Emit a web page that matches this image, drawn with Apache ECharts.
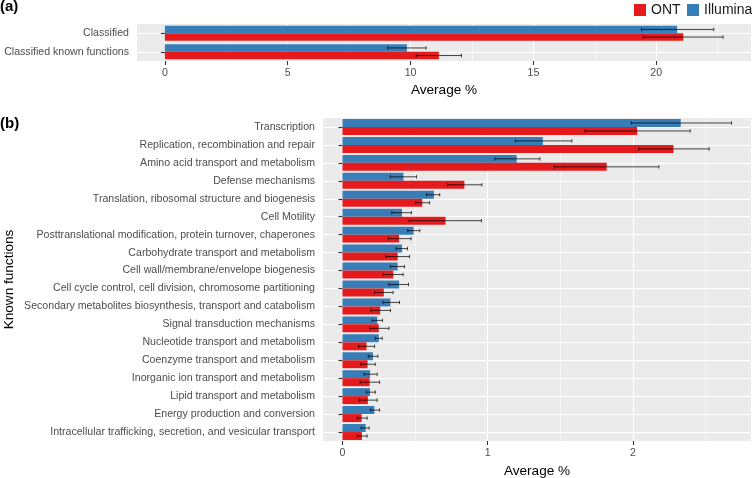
<!DOCTYPE html>
<html>
<head>
<meta charset="utf-8">
<script src="https://cdn.jsdelivr.net/npm/echarts@6/dist/echarts.min.js"></script>
<style>html,body{margin:0;padding:0;background:#fff}#c{width:752px;height:478px}</style>
</head>
<body>
<div id="c"></div>
<script>
// ---------- Panel (a) data ----------
const catA = ['Classified', 'Classified known functions'];
const illuminaA = [20.85, 9.85];
const illuminaALow = [19.40, 9.07];
const illuminaAHigh = [22.34, 10.63];
const ontA = [21.10, 11.15];
const ontALow = [19.47, 10.23];
const ontAHigh = [22.72, 12.07];
const ticksA = [0, 5, 10, 15, 20];
const minorA = [2.5, 7.5, 12.5, 17.5, 22.5];

// ---------- Panel (b) data ----------
const catB = [
  'Transcription',
  'Replication, recombination and repair',
  'Amino acid transport and metabolism',
  'Defense mechanisms',
  'Translation, ribosomal structure and biogenesis',
  'Cell Motility',
  'Posttranslational modification, protein turnover, chaperones',
  'Carbohydrate transport and metabolism',
  'Cell wall/membrane/envelope biogenesis',
  'Cell cycle control, cell division, chromosome partitioning',
  'Secondary metabolites biosynthesis, transport and catabolism',
  'Signal transduction mechanisms',
  'Nucleotide transport and metabolism',
  'Coenzyme transport and metabolism',
  'Inorganic ion transport and metabolism',
  'Lipid transport and metabolism',
  'Energy production and conversion',
  'Intracellular trafficking, secretion, and vesicular transport'
];
const illuminaB =     [2.33, 1.38, 1.20, 0.42, 0.63, 0.41, 0.49, 0.41, 0.38, 0.39, 0.33, 0.24, 0.25, 0.21, 0.19, 0.19, 0.22, 0.16];
const illuminaBLow =  [1.99, 1.19, 1.05, 0.33, 0.58, 0.34, 0.45, 0.37, 0.33, 0.32, 0.28, 0.205, 0.226, 0.178, 0.150, 0.164, 0.194, 0.129];
const illuminaBHigh = [2.68, 1.58, 1.36, 0.51, 0.67, 0.475, 0.533, 0.448, 0.427, 0.455, 0.393, 0.276, 0.274, 0.244, 0.239, 0.226, 0.256, 0.184];
const ontB =          [2.03, 2.28, 1.82, 0.84, 0.55, 0.71, 0.39, 0.38, 0.35, 0.285, 0.26, 0.25, 0.166, 0.173, 0.187, 0.175, 0.132, 0.134];
const ontBLow =       [1.67, 2.04, 1.46, 0.725, 0.505, 0.46, 0.317, 0.297, 0.281, 0.221, 0.196, 0.187, 0.111, 0.127, 0.122, 0.116, 0.102, 0.102];
const ontBHigh =      [2.395, 2.526, 2.18, 0.96, 0.60, 0.957, 0.473, 0.462, 0.418, 0.349, 0.331, 0.32, 0.221, 0.226, 0.256, 0.239, 0.17, 0.17];
const ticksB = [0, 1, 2];
const minorB = [0.5, 1.5, 2.5];

const RED = '#E41A1C', BLUE = '#377EB8';
const FONT = 'Liberation Sans, Arial, Helvetica, sans-serif';
const LABEL_COL = '#4D4D4D';
const BAR_A = 0.41, BAR_B = 0.445;

const maxA = Math.max(...illuminaAHigh, ...ontAHigh);
const maxB = Math.max(...illuminaBHigh, ...ontBHigh);

function errRender(sign, frac) {
  return function (params, api) {
    const cat = api.value(2);
    const lo = api.coord([api.value(0), cat]);
    const hi = api.coord([api.value(1), cat]);
    const band = api.size([0, 1])[1];
    const y = lo[1] + sign * band * frac / 2;
    const cap = band * 0.095;
    const st = { stroke: 'rgba(0,0,0,0.72)', lineWidth: 1 };
    return {
      type: 'group',
      children: [
        { type: 'line', shape: { x1: lo[0], y1: y, x2: hi[0], y2: y }, style: st },
        { type: 'line', shape: { x1: lo[0], y1: y - cap, x2: lo[0], y2: y + cap }, style: st },
        { type: 'line', shape: { x1: hi[0], y1: y - cap, x2: hi[0], y2: y + cap }, style: st }
      ]
    };
  };
}
function errData(low, high) { return low.map((l, i) => [l, high[i], i]); }

function mainX(gridIndex, ticks, min, max) {
  return {
    type: 'value', gridIndex, min, max,
    axisLine: { show: false },
    axisTick: { show: true, length: 4, customValues: ticks, lineStyle: { color: '#333', width: 1.1 } },
    axisLabel: { customValues: ticks, margin: 7, color: LABEL_COL, fontSize: 10.6, fontFamily: FONT },
    splitLine: { show: true, lineStyle: { color: '#fff', width: 1.1 } },
    name: 'Average %', nameLocation: 'middle', nameGap: 22,
    nameTextStyle: { color: '#000', fontSize: 13.6, fontFamily: FONT }
  };
}
function minorX(gridIndex, ticks, min, max) {
  return {
    type: 'value', gridIndex, min, max,
    axisLine: { show: false },
    axisTick: { show: false, customValues: ticks },
    axisLabel: { show: false, customValues: ticks },
    splitLine: { show: true, lineStyle: { color: '#fff', width: 0.55 } }
  };
}
function catY(gridIndex, cats, extra) {
  return Object.assign({
    type: 'category', gridIndex, data: cats, inverse: true,
    axisLine: { show: false },
    axisTick: { show: true, alignWithLabel: true, length: 4, lineStyle: { color: '#333', width: 1.1 } },
    axisLabel: { margin: 8, color: LABEL_COL, fontSize: 10.6, fontFamily: FONT },
    splitLine: { show: false }
  }, extra || {});
}
function lineY(gridIndex, n) {
  const vals = [];
  for (let i = 1; i <= n; i++) vals.push(i);
  return {
    type: 'value', gridIndex, min: 0.5, max: n + 0.5, inverse: true, position: 'left',
    axisLine: { show: false },
    axisTick: { show: false, customValues: vals },
    axisLabel: { show: false, customValues: vals },
    splitLine: { show: true, lineStyle: { color: '#fff', width: 1.1 } }
  };
}

const legendBase = {
  top: 3, padding: 0, orient: 'horizontal',
  itemWidth: 12, itemHeight: 12, icon: 'rect',
  textStyle: { fontSize: 14, color: '#1a1a1a', fontFamily: FONT }
};

const option = {
  animation: false,
  backgroundColor: '#fff',
  textStyle: { fontFamily: FONT },
  title: [
    { text: '(a)', left: 0, top: -1, padding: 0, textStyle: { fontSize: 15, fontWeight: 'bold', color: '#000', fontFamily: FONT } },
    { text: '(b)', left: 0, top: 116, padding: 0, textStyle: { fontSize: 15, fontWeight: 'bold', color: '#000', fontFamily: FONT } }
  ],
  legend: [
    Object.assign({ data: ['ONT'], left: 634 }, legendBase),
    Object.assign({ data: ['Illumina'], left: 687 }, legendBase)
  ],
  grid: [
    { left: 137, right: 1, top: 24, height: 37, show: true, backgroundColor: '#EBEBEB', borderWidth: 0, containLabel: false, outerBoundsMode: 'none' },
    { left: 323, right: 1, top: 118, height: 323, show: true, backgroundColor: '#EBEBEB', borderWidth: 0, containLabel: false, outerBoundsMode: 'none' }
  ],
  xAxis: [
    mainX(0, ticksA, -0.05 * maxA, 1.05 * maxA),
    minorX(0, minorA, -0.05 * maxA, 1.05 * maxA),
    mainX(1, ticksB, -0.05 * maxB, 1.05 * maxB),
    minorX(1, minorB, -0.05 * maxB, 1.05 * maxB)
  ],
  yAxis: [
    catY(0, catA),
    lineY(0, catA.length),
    catY(1, catB, {
      name: 'Known functions', nameLocation: 'middle', nameGap: 307, nameMoveOverlap: false,
      nameTextStyle: { color: '#000', fontSize: 13.6, fontFamily: FONT }
    }),
    lineY(1, catB.length)
  ],
  series: [
    { name: 'Illumina', type: 'bar', xAxisIndex: 0, yAxisIndex: 0, data: illuminaA, itemStyle: { color: BLUE }, barWidth: (BAR_A * 100) + '%', barGap: '0%' },
    { name: 'ONT', type: 'bar', xAxisIndex: 0, yAxisIndex: 0, data: ontA, itemStyle: { color: RED }, barWidth: (BAR_A * 100) + '%', barGap: '0%' },
    { name: 'Illumina', type: 'custom', xAxisIndex: 0, yAxisIndex: 0, data: errData(illuminaALow, illuminaAHigh), encode: { x: [0, 1], y: 2 }, renderItem: errRender(-1, BAR_A), z: 5 },
    { name: 'ONT', type: 'custom', xAxisIndex: 0, yAxisIndex: 0, data: errData(ontALow, ontAHigh), encode: { x: [0, 1], y: 2 }, renderItem: errRender(1, BAR_A), z: 5 },

    { name: 'Illumina', type: 'bar', xAxisIndex: 2, yAxisIndex: 2, data: illuminaB, itemStyle: { color: BLUE }, barWidth: (BAR_B * 100) + '%', barGap: '0%' },
    { name: 'ONT', type: 'bar', xAxisIndex: 2, yAxisIndex: 2, data: ontB, itemStyle: { color: RED }, barWidth: (BAR_B * 100) + '%', barGap: '0%' },
    { name: 'Illumina', type: 'custom', xAxisIndex: 2, yAxisIndex: 2, data: errData(illuminaBLow, illuminaBHigh), encode: { x: [0, 1], y: 2 }, renderItem: errRender(-1, BAR_B), z: 5 },
    { name: 'ONT', type: 'custom', xAxisIndex: 2, yAxisIndex: 2, data: errData(ontBLow, ontBHigh), encode: { x: [0, 1], y: 2 }, renderItem: errRender(1, BAR_B), z: 5 }
  ]
};

const chart = echarts.init(document.getElementById('c'), null, { renderer: 'canvas' });
chart.setOption(option);
</script>
</body>
</html>
